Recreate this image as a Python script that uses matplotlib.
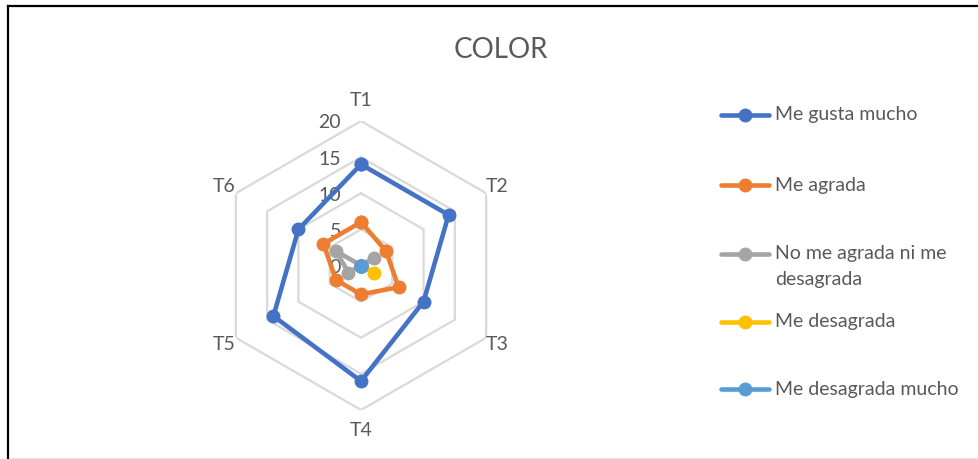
import numpy as np
import matplotlib
matplotlib.use("Agg")
import matplotlib.pyplot as plt
from matplotlib.lines import Line2D

plt.rcParams["font.family"] = ["Lato", "DejaVu Sans"]

# Radar data: number of answers per taste (T1..T6)
categories = ["T1", "T2", "T3", "T4", "T5", "T6"]
series_names = [
    "Me gusta mucho",
    "Me agrada",
    "No me agrada ni me\ndesagrada",
    "Me desagrada",
    "Me desagrada mucho",
]
me_gusta_mucho = [14, 14, 10, 16, 14, 10]
me_agrada = [6, 4, 6, 4, 4, 6]
ni_agrada_ni_desagrada = [0, 2, 0, 0, 2, 4]
me_desagrada = [0, 0, 2, 0, 0, 0]
me_desagrada_mucho = [0, 0, 0, 0, 0, 0]
radial_ticks = [0, 5, 10, 15, 20]

colors = ["#4472C4", "#ED7D31", "#A5A5A5", "#FFC000", "#5B9BD5"]
text_color = "#595959"
grid_color = "#D9D9D9"

W, H = 979, 459
fig = plt.figure(figsize=(W / 100, H / 100), dpi=100)


def fx(px):
    return px / W


def fy(py):
    return 1 - py / H


# polar axes centred at (361, 265.5) px, radius 144.5 px
cx, cy, rad = 361, 265.5, 144.5
ax = fig.add_axes([fx(cx - rad), fy(cy + rad), 2 * rad / W, 2 * rad / H],
                  projection="polar")
ax.set_theta_offset(np.pi / 2)
ax.set_theta_direction(-1)
ax.set_ylim(0, 20)
ax.grid(False)
ax.set_xticks([])
ax.set_yticks([])
ax.spines["polar"].set_visible(False)
ax.patch.set_visible(False)

n = len(categories)
angles = np.linspace(0, 2 * np.pi, n, endpoint=False)
closed = np.append(angles, angles[0])

# hexagonal gridlines
for r in radial_ticks[1:]:
    ax.plot(closed, [r] * (n + 1), color=grid_color, lw=1.6, zorder=1)

# radial value labels along the T1 axis
for r in radial_ticks:
    ax.annotate(str(r), xy=(0, r), xytext=(-20, -2), textcoords="offset pixels",
                ha="right", va="center", fontsize=14, color=text_color,
                annotation_clip=False)

# category labels
for a, lab in zip(angles, categories):
    rr = 22.9 if lab in ("T1", "T4") else 21.8
    ax.text(a, rr, lab, ha="center", va="center", fontsize=14,
            color=text_color, clip_on=False)

all_series = [me_gusta_mucho, me_agrada, ni_agrada_ni_desagrada,
              me_desagrada, me_desagrada_mucho]
for i, (vals, col) in enumerate(zip(all_series, colors)):
    v = np.append(vals, vals[0])
    ax.plot(closed, v, color=col, lw=3.3, marker="o", markersize=9,
            clip_on=False, zorder=3 + i, solid_joinstyle="round")

# title
fig.text(fx(501), fy(50), "COLOR", ha="center", va="center",
         fontsize=20, color=text_color)

# legend drawn on the right; wrapped names continue 26 px lower
legend_y = [115, 185, 254, 322, 389]
for name, col, ly in zip(series_names, colors, legend_y):
    fig.add_artist(Line2D([fx(721), fx(769)], [fy(ly), fy(ly)], color=col,
                          lw=3.3, solid_capstyle="round"))
    fig.add_artist(Line2D([fx(745)], [fy(ly)], color=col, marker="o",
                          markersize=9))
    for k, line in enumerate(name.split("\n")):
        fig.text(fx(775), fy(ly + 26 * k), line, ha="left", va="center",
                 fontsize=14, color=text_color)

# chart frame edges
fig.add_artist(Line2D([fx(8), fx(8)], [fy(6), fy(H)], color="black", lw=1.6))
fig.add_artist(Line2D([fx(8), fx(W)], [fy(6), fy(6)], color="black", lw=1.6))
fig.add_artist(Line2D([fx(10), fx(W)], [fy(457.5), fy(457.5)],
                      color="#E6E6E6", lw=1.0))

fig.savefig("out.png", dpi=100)
